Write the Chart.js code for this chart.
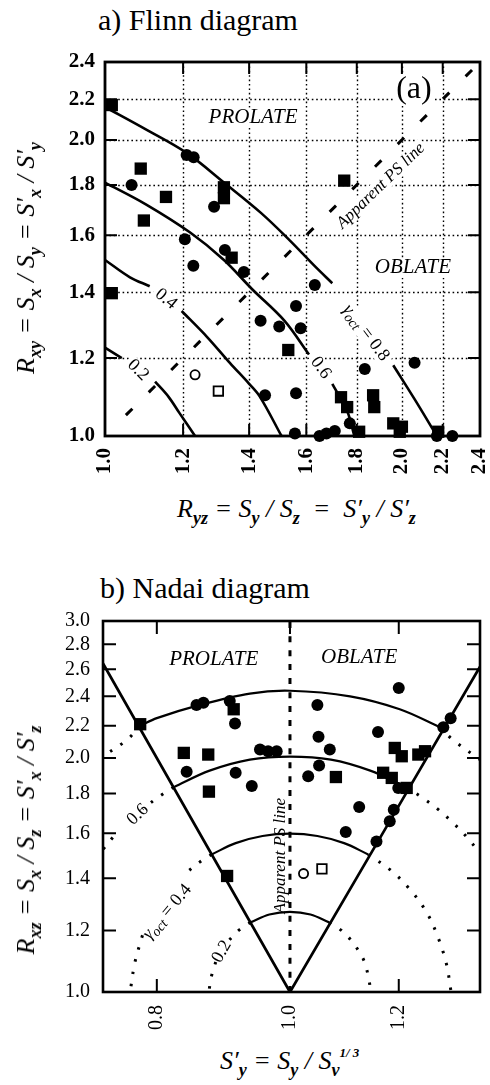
<!DOCTYPE html>
<html>
<head>
<meta charset="utf-8">
<script src="https://cdn.jsdelivr.net/npm/chart.js@4.4.1/dist/chart.umd.min.js"></script>
<style>
  html, body { margin: 0; padding: 0; background: #fff; }
  body { width: 490px; height: 1085px; position: relative; overflow: hidden;
         font-family: 'Liberation Serif', 'Times New Roman', serif; color: #000; }
  canvas { position: absolute; left: 0; }
  .title { position: absolute; font-size: 30px; line-height: 30px; white-space: nowrap; }
  .axl { position: absolute; font-size: 26px; line-height: 26px; font-style: italic; white-space: nowrap; }
  .axl sub { font-size: 18px; font-weight: bold; vertical-align: -0.4em; line-height: 0; }
  .axl sup { font-size: 13px; font-weight: bold; vertical-align: 0.9em; line-height: 0; }
  .rot { transform: translate(-50%, -50%) rotate(-90deg); }
</style>
</head>
<body>
<div class="title" style="left:98px; top:5px;">a) Flinn diagram</div>
<canvas id="flinn" width="490" height="490" style="top:0;"></canvas>
<div class="axl rot" style="left:26px; top:258px;">R<sub>xy</sub> = S<sub>x</sub> / S<sub>y</sub> = S′<sub>x</sub> / S′<sub>y</sub></div>
<div class="axl" style="left:177px; top:496px;">R<sub>yz</sub> = S<sub>y</sub> / S<sub>z</sub> &nbsp;= &nbsp;S′<sub>y</sub> / S′<sub>z</sub></div>

<div class="title" style="left:100px; top:573px;">b) Nadai diagram</div>
<canvas id="nadai" width="490" height="500" style="top:540px;"></canvas>
<div class="axl rot" style="left:26px; top:840px;">R<sub>xz</sub> = S<sub>x</sub> / S<sub>z</sub> = S′<sub>x</sub> / S′<sub>z</sub></div>
<div class="axl" style="left:220px; top:1048px;">S′<sub>y</sub> = S<sub>y</sub> / S<sub>v</sub><sup>1/ 3</sup></div>

<script>
// ---- a) Flinn diagram (log axes) ----
const flinnTicks = [1.0, 1.2, 1.4, 1.6, 1.8, 2.0, 2.2, 2.4];

const flinnCircles = [
  [1.21, 1.93], [1.23, 1.92], [1.064, 1.80], [1.29, 1.71], [1.205, 1.585],
  [1.323, 1.546], [1.229, 1.49], [1.383, 1.468], [1.632, 1.424], [1.562, 1.356],
  [1.438, 1.31], [1.502, 1.292], [1.579, 1.287], [1.834, 1.17], [2.06, 1.187],
  [1.453, 1.10], [1.562, 1.105], [1.771, 1.03], [1.558, 1.006], [1.65, 1.0],
  [1.677, 1.006], [1.71, 1.012], [2.17, 1.0], [2.25, 1.0]
];
const flinnSquares = [
  [1.016, 2.17], [1.087, 1.87], [1.153, 1.75], [1.32, 1.79], [1.32, 1.745],
  [1.095, 1.656], [1.344, 1.518], [1.748, 1.818], [1.016, 1.397], [1.534, 1.223],
  [1.735, 1.095], [1.76, 1.07], [1.87, 1.10], [1.875, 1.07], [1.81, 1.01],
  [1.96, 1.03], [2.0, 1.022], [1.99, 1.01], [2.177, 1.01]
];
const flinnOpenCircles = [[1.234, 1.154]];
const flinnOpenSquares = [[1.303, 1.111]];

// gamma_oct contours; null leaves the gap where the label sits
const flinnG02 = [[1.0, 1.23], [1.04, 1.20], null, [1.124, 1.136], [1.16, 1.096], [1.19, 1.055], [1.234, 1.0]];
const flinnG04 = [[1.0, 1.51], [1.06, 1.45], [1.11, 1.42], null, [1.196, 1.34], [1.27, 1.26], [1.339, 1.186], [1.40, 1.13], [1.436, 1.096], [1.51, 1.0]];
const flinnG06 = [[1.0, 1.81], [1.1, 1.72], [1.22, 1.61], [1.32, 1.51], [1.41, 1.41], [1.52, 1.31], [1.61, 1.21], null, [1.70, 1.13], [1.76, 1.06], [1.79, 1.0]];
const flinnG08 = [[1.0, 2.16], [1.1, 2.05], [1.21, 1.94], [1.32, 1.81], [1.44, 1.685], [1.54, 1.58], [1.63, 1.49], [1.70, 1.43], null, [1.96, 1.18], [2.06, 1.09], [2.17, 1.0]];
const flinnPSLine = [[1.05, 1.05], [2.4, 2.4]];

// ---- b) Nadai diagram (log axes) ----
const nadaiXTicks = [0.8, 1.0, 1.2];
const nadaiYTicks = [1.0, 1.2, 1.4, 1.6, 1.8, 2.0, 2.2, 2.4, 2.6, 2.8, 3.0];

const nadaiCircles = [
  [0.855, 2.34], [0.865, 2.355], [0.904, 2.367], [0.912, 2.215], [0.841, 1.92],
  [0.913, 1.914], [0.938, 1.84], [0.951, 2.05], [0.964, 2.04], [0.978, 2.04],
  [1.20, 2.46], [1.047, 2.34], [1.159, 2.16], [1.049, 2.13], [1.069, 2.05],
  [1.293, 2.19], [1.309, 2.25], [1.05, 1.955], [1.031, 1.894], [1.199, 1.83],
  [1.123, 1.73], [1.19, 1.716], [1.182, 1.658], [1.098, 1.606], [1.156, 1.562]
];
const nadaiSquares = [
  [0.778, 2.21], [0.91, 2.31], [0.837, 2.03], [0.872, 2.02], [0.873, 1.81],
  [1.192, 2.06], [1.206, 2.01], [1.24, 2.02], [1.254, 2.04], [1.08, 1.89],
  [1.169, 1.914], [1.186, 1.885], [1.216, 1.83], [0.90, 1.41]
];
const nadaiOpenCircles = [[1.023, 1.42]];
const nadaiOpenSquares = [[1.055, 1.44]];

const nadaiProlateLimit = [[1.0, 1.0], [0.731, 2.645]];
const nadaiOblateLimit = [[1.0, 1.0], [1.375, 2.62]];
const nadaiPSLine = [[1.0, 1.0], [1.0, 3.0]];

const nadaiArc02 = [[0.936, 1.229], [0.966, 1.258], [1.0, 1.268], [1.035, 1.258], [1.068, 1.229]];
const nadaiArc04 = [[0.877, 1.503], [0.913, 1.554], [0.955, 1.587], [1.0, 1.598], [1.047, 1.587], [1.095, 1.554], [1.140, 1.503]];
const nadaiArc06 = [[0.823, 1.834], [0.874, 1.926], [0.935, 1.99], [1.0, 2.008], [1.071, 1.99], [1.144, 1.926], [1.215, 1.834]];
const nadaiArc08 = [[0.778, 2.20], [0.80, 2.25], [0.86, 2.34], [0.935, 2.42], [1.0, 2.44], [1.106, 2.40], [1.202, 2.31], [1.286, 2.19]];

// dotted continuations outside the sector
const nadaiDot02L = [[0.936, 1.229], [0.9175, 1.20], [0.901, 1.161], null, [0.883, 1.093], [0.876, 1.042], [0.873, 1.0]];
const nadaiDot02R = [[1.068, 1.229], [1.09, 1.2], [1.11, 1.161], [1.123, 1.126], [1.133, 1.093], [1.141, 1.042], [1.145, 1.0]];
const nadaiDot04L = [[0.877, 1.503], [0.859, 1.468], [0.8406, 1.424], null, [0.781, 1.183], [0.771, 1.09], [0.765, 1.0]];
const nadaiDot04R = [[1.140, 1.503], [1.185, 1.432], [1.224, 1.352], [1.258, 1.264], [1.282, 1.174], [1.300, 1.085], [1.31, 1.0]];
const nadaiDot06L = [[0.823, 1.834], [0.8024, 1.782], [0.781, 1.719], null, [0.743, 1.58], [0.731, 1.525]];
const nadaiDot06R = [[1.215, 1.834], [1.246, 1.782], [1.281, 1.719], [1.314, 1.651], [1.346, 1.58], [1.375, 1.507]];
const nadaiDot08L = [[0.778, 2.20], [0.761, 2.11], [0.731, 2.01]];
const nadaiDot08R = [[1.286, 2.19], [1.314, 2.11], [1.375, 1.99]];

const serif = "'Liberation Serif', 'Times New Roman', serif";

const xy = arr => arr.map(p => p ? { x: p[0], y: p[1] } : { x: null, y: null });

function marks(arr, style, r, filled) {
  return {
    data: xy(arr), pointStyle: style, pointRadius: r, pointHoverRadius: r,
    backgroundColor: filled ? '#000' : '#fff', borderColor: '#000',
    borderWidth: filled ? 0 : 1.8, clip: false, order: 0
  };
}

function curve(arr, width, dash) {
  return {
    data: xy(arr), showLine: true, borderColor: '#000', borderWidth: width,
    borderDash: dash || [], pointRadius: 0, pointHoverRadius: 0, tension: 0.35,
    spanGaps: false, clip: false, order: 1
  };
}

// frame, inward tick marks, dotted grid and the in-plot labels
function overlay(cfg) {
  return {
    id: 'overlay',
    beforeDatasetsDraw(chart) {
      const { ctx, chartArea: a, scales: { x, y } } = chart;
      ctx.save();
      ctx.strokeStyle = '#000';
      if (cfg.grid) {
        // dotted grid lines at the tick values of each scale
        ctx.lineWidth = 1.4;
        ctx.setLineDash([1.6, 2.8]);
        ctx.beginPath();
        cfg.top.forEach(v => { const p = Math.round(x.getPixelForValue(v)) + 0.5; ctx.moveTo(p, a.top); ctx.lineTo(p, a.bottom); });
        cfg.left.forEach(v => { const p = Math.round(y.getPixelForValue(v)) + 0.5; ctx.moveTo(a.left, p); ctx.lineTo(a.right, p); });
        ctx.stroke();
        ctx.setLineDash([]);
      }
      ctx.lineWidth = cfg.tickWidth;
      ctx.beginPath();
      cfg.top.forEach(v => { const p = x.getPixelForValue(v); ctx.moveTo(p, a.top); ctx.lineTo(p, a.top + cfg.len); });
      cfg.bottom.forEach(v => { const p = x.getPixelForValue(v); ctx.moveTo(p, a.bottom); ctx.lineTo(p, a.bottom - cfg.len); });
      cfg.left.forEach(v => { const p = y.getPixelForValue(v); ctx.moveTo(a.left, p); ctx.lineTo(a.left + cfg.len, p); });
      cfg.right.forEach(v => { const p = y.getPixelForValue(v); ctx.moveTo(a.right, p); ctx.lineTo(a.right - cfg.len, p); });
      ctx.stroke();
      ctx.lineWidth = cfg.frameWidth;
      ctx.strokeRect(a.left, a.top, a.right - a.left, a.bottom - a.top);
      ctx.restore();
    },
    afterDatasetsDraw(chart) {
      const { ctx, scales: { x, y } } = chart;
      cfg.texts.forEach(t => {
        ctx.save();
        ctx.translate(x.getPixelForValue(t.x), y.getPixelForValue(t.y));
        ctx.rotate(t.rot * Math.PI / 180);
        ctx.textBaseline = 'middle';
        let total = 0;
        const widths = t.parts.map(p => {
          ctx.font = p[1] + ' ' + serif;
          const w = ctx.measureText(p[0]).width;
          total += w;
          return w;
        });
        if (t.bg) {
          ctx.fillStyle = '#fff';
          ctx.fillRect(-total / 2 - 3, -t.bg / 2, total + 6, t.bg);
        }
        ctx.fillStyle = '#000';
        let px = -total / 2;
        t.parts.forEach((p, i) => {
          ctx.font = p[1] + ' ' + serif;
          ctx.fillText(p[0], px, p[2] || 0);
          px += widths[i];
        });
        ctx.restore();
      });
    }
  };
}

function logAxis(min, max, ticks, fit, tickOpts) {
  return {
    type: 'logarithmic', min: min, max: max,
    afterBuildTicks: s => { s.ticks = ticks.map(v => ({ value: v })); },
    afterFit: fit,
    ticks: Object.assign({
      callback: v => Number(v).toFixed(1), autoSkip: false, color: '#000'
    }, tickOpts),
    grid: { display: false, drawTicks: false },
    border: { display: false }
  };
}

const inner = flinnTicks.slice(1, -1);

new Chart(document.getElementById('flinn'), {
  type: 'scatter',
  data: {
    datasets: [
      marks(flinnSquares, 'rect', 8.7, true),
      marks(flinnCircles, 'circle', 6, true),
      marks(flinnOpenCircles, 'circle', 4.6, false),
      marks(flinnOpenSquares, 'rect', 6.7, false),
      curve(flinnG02, 2.6),
      curve(flinnG04, 2.6),
      curve(flinnG06, 2.6),
      curve(flinnG08, 2.6),
      curve(flinnPSLine, 3, [9, 23])
    ]
  },
  options: {
    responsive: false, animation: false, devicePixelRatio: 1, events: [],
    layout: { padding: { top: 62, right: 10, left: 0, bottom: 0 } },
    plugins: { legend: { display: false }, tooltip: { enabled: false } },
    scales: {
      x: logAxis(1.0, 2.4, flinnTicks,
        s => { s.height = 54; s.paddingLeft = 0; s.paddingRight = 0; },
        { minRotation: 90, maxRotation: 90, padding: 12, font: { family: serif, size: 21, weight: 'bold' } }),
      y: logAxis(1.0, 2.4, flinnTicks,
        s => { s.width = 105; s.paddingTop = 0; s.paddingBottom = 0; },
        { padding: 10, font: { family: serif, size: 21, weight: 'bold' } })
    }
  },
  plugins: [overlay({
    grid: true, tickWidth: 2, len: 12, frameWidth: 2.8,
    top: inner, bottom: inner, left: inner, right: inner,
    texts: [
      { parts: [['PROLATE', 'italic 21px']], x: 1.413, y: 2.106, rot: 0, bg: 20 },
      { parts: [['OBLATE', 'italic 21px']], x: 2.052, y: 1.482, rot: 0, bg: 20 },
      { parts: [['(a)', '32px']], x: 2.057, y: 2.249, rot: 0, bg: 30 },
      { parts: [['Apparent PS line', 'italic 17px']], x: 1.904, y: 1.796, rot: -44, bg: 16 },
      { parts: [['γ', 'italic 18px'], ['oct', 'italic 14px', 5], [' = 0.8', '18px']], x: 1.839, y: 1.273, rot: 53, bg: 18 },
      { parts: [['0.6', '18px']], x: 1.655, y: 1.173, rot: 54, bg: 16 },
      { parts: [['0.4', '18px']], x: 1.153, y: 1.378, rot: 40, bg: 16 },
      { parts: [['0.2', '18px']], x: 1.08, y: 1.167, rot: 45, bg: 16 }
    ]
  })]
});

new Chart(document.getElementById('nadai'), {
  type: 'scatter',
  data: {
    datasets: [
      marks(nadaiSquares, 'rect', 8.7, true),
      marks(nadaiCircles, 'circle', 6, true),
      marks(nadaiOpenCircles, 'circle', 4.6, false),
      marks(nadaiOpenSquares, 'rect', 6.7, false),
      curve(nadaiProlateLimit, 2.7),
      curve(nadaiOblateLimit, 2.7),
      curve(nadaiPSLine, 3, [6, 8]),
      curve(nadaiArc02, 2.2),
      curve(nadaiArc04, 2.2),
      curve(nadaiArc06, 2.2),
      curve(nadaiArc08, 2.2),
      curve(nadaiDot02L, 3, [2.5, 10]),
      curve(nadaiDot02R, 3, [2.5, 10]),
      curve(nadaiDot04L, 3, [2.5, 10]),
      curve(nadaiDot04R, 3, [2.5, 10]),
      curve(nadaiDot06L, 3, [2.5, 10]),
      curve(nadaiDot06R, 3, [2.5, 10]),
      curve(nadaiDot08L, 3, [2.5, 10]),
      curve(nadaiDot08R, 3, [2.5, 10])
    ]
  },
  options: {
    responsive: false, animation: false, devicePixelRatio: 1, events: [],
    layout: { padding: { top: 81, right: 10, left: 0, bottom: 0 } },
    plugins: { legend: { display: false }, tooltip: { enabled: false } },
    scales: {
      x: logAxis(0.731, 1.375, nadaiXTicks,
        s => { s.height = 48; s.paddingLeft = 0; s.paddingRight = 0; },
        { minRotation: 90, maxRotation: 90, padding: 13, font: { family: serif, size: 20 } }),
      y: logAxis(1.0, 3.0, nadaiYTicks,
        s => { s.width = 103; s.paddingTop = 0; s.paddingBottom = 0; },
        { padding: 13, font: { family: serif, size: 20 } })
    }
  },
  plugins: [overlay({
    grid: false, tickWidth: 2, len: 13, frameWidth: 2.6,
    top: nadaiXTicks, bottom: [0.8, 1.2],
    left: nadaiYTicks.slice(1, -1), right: nadaiYTicks.slice(1, -1),
    texts: [
      { parts: [['PROLATE', 'italic 21px']], x: 0.880, y: 2.678, rot: 0 },
      { parts: [['OBLATE', 'italic 21px']], x: 1.123, y: 2.694, rot: 0 },
      { parts: [['Apparent PS line', 'italic 17px']], x: 0.985, y: 1.497, rot: -90 },
      { parts: [['0.6', '18px']], x: 0.775, y: 1.691, rot: -44 },
      { parts: [['γ', 'italic 18px'], ['oct', 'italic 14px', 5], [' = 0.4', '18px']], x: 0.814, y: 1.268, rot: -50 },
      { parts: [['0.2', '18px']], x: 0.892, y: 1.127, rot: -60 }
    ]
  })]
});
</script>
</body>
</html>
